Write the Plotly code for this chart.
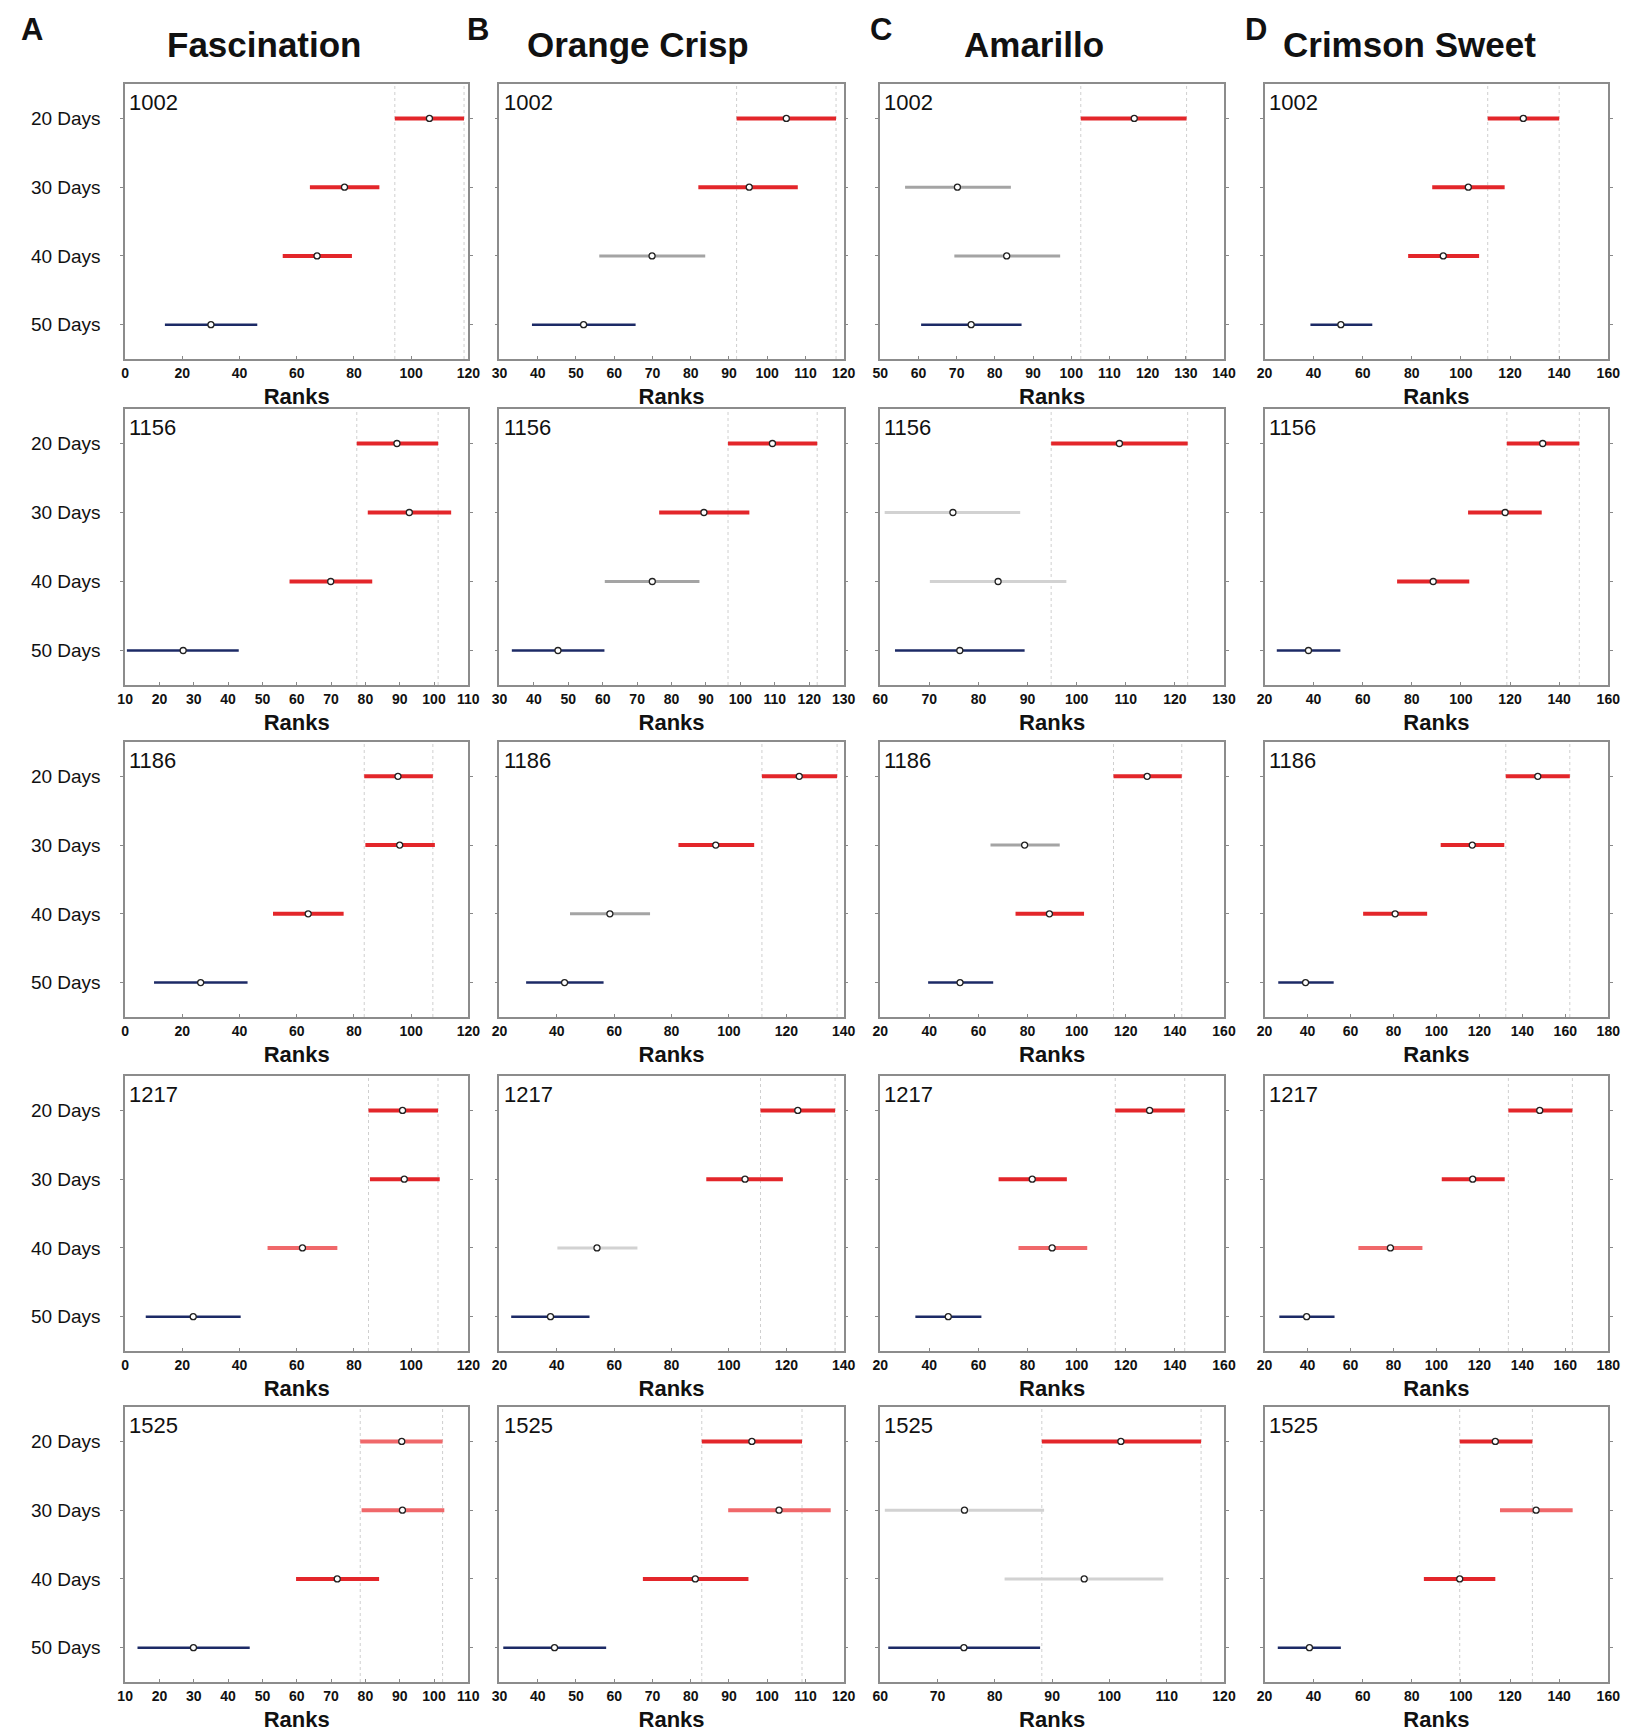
import plotly.graph_objects as go

cultivars = ["Fascination", "Orange Crisp", "Amarillo", "Crimson Sweet"]
letters = ["A", "B", "C", "D"]
lines = ["1002", "1156", "1186", "1217", "1525"]
days = ["20 Days", "30 Days", "40 Days", "50 Days"]

# mean rank, lower and upper interval, colour code (one row per line, one value per day)
fascination_mid = [[106.4, 76.7, 67.1, 30.0], [89.2, 92.8, 69.9, 26.9], [95.4, 96.0, 64.0, 26.4],
                   [97.0, 97.6, 62.0, 23.8], [90.6, 90.8, 71.8, 29.9]]
fascination_lo = [[94.3, 64.6, 55.1, 13.9], [77.5, 80.7, 57.9, 10.5], [83.6, 84.0, 51.7, 10.1],
                  [85.1, 85.6, 49.8, 7.2], [78.5, 78.9, 59.8, 13.6]]
fascination_hi = [[118.5, 88.9, 79.3, 46.2], [101.2, 105.0, 82.0, 43.1], [107.6, 108.3, 76.4, 42.8],
                  [109.4, 110.0, 74.2, 40.4], [102.5, 103.0, 84.0, 46.3]]
fascination_col = [["r", "r", "r", "n"], ["r", "r", "r", "n"], ["r", "r", "r", "n"],
                   ["r", "r", "lr", "n"], ["lr", "lr", "r", "n"]]

orange_mid = [[105.0, 95.3, 69.9, 52.0], [109.3, 89.4, 74.4, 47.0], [124.5, 95.4, 58.5, 42.7],
              [124.0, 105.6, 54.0, 37.8], [96.0, 103.1, 81.2, 44.4]]
orange_lo = [[92.0, 82.0, 56.1, 38.5], [96.4, 76.4, 60.6, 33.6], [111.5, 82.4, 44.6, 29.3],
             [111.0, 92.1, 40.2, 24.1], [82.9, 89.8, 67.5, 31.0]]
orange_hi = [[118.0, 108.0, 83.8, 65.6], [122.3, 102.6, 88.1, 60.5], [137.7, 108.8, 72.5, 56.3],
             [137.0, 118.8, 68.1, 51.4], [109.1, 116.6, 95.1, 57.9]]
orange_col = [["r", "r", "g", "n"], ["r", "r", "g", "n"], ["r", "r", "g", "n"],
              ["r", "r", "lg", "n"], ["r", "lr", "r", "n"]]

amarillo_mid = [[116.5, 70.2, 83.1, 73.8], [108.7, 74.8, 84.0, 76.2], [128.7, 78.8, 88.9, 52.5],
                [129.7, 81.9, 90.0, 47.7], [102.0, 74.7, 95.6, 74.6]]
amarillo_lo = [[102.5, 56.5, 69.4, 60.7], [94.8, 60.9, 70.1, 63.0], [115.0, 64.9, 75.1, 39.5],
               [115.7, 68.2, 76.3, 34.3], [88.2, 60.8, 81.7, 61.4]]
amarillo_hi = [[130.2, 84.2, 97.1, 87.0], [122.6, 88.5, 97.9, 89.4], [142.8, 93.1, 103.0, 66.0],
               [144.0, 96.0, 104.3, 61.2], [116.0, 88.6, 109.4, 87.9]]
amarillo_col = [["r", "g", "g", "n"], ["r", "lg", "lg", "n"], ["r", "g", "r", "n"],
                ["r", "r", "lr", "n"], ["r", "lg", "lg", "n"]]

crimson_mid = [[125.4, 103.0, 92.8, 51.1], [133.3, 118.0, 88.7, 37.9], [147.2, 116.7, 80.8, 39.1],
               [148.1, 116.9, 78.6, 39.6], [114.0, 130.6, 99.5, 38.3]]
crimson_lo = [[110.9, 88.3, 78.5, 38.7], [118.7, 102.9, 74.0, 25.0], [132.3, 102.0, 65.9, 26.4],
              [133.5, 102.5, 63.7, 26.9], [99.5, 115.9, 84.9, 25.4]]
crimson_hi = [[140.0, 117.8, 107.4, 63.9], [148.2, 132.9, 103.4, 50.9], [162.1, 131.6, 95.7, 52.2],
              [163.3, 131.8, 93.5, 52.6], [129.1, 145.5, 114.0, 51.1]]
crimson_col = [["r", "r", "r", "n"], ["r", "r", "r", "n"], ["r", "r", "r", "n"],
               ["r", "r", "lr", "n"], ["r", "lr", "r", "n"]]

# x axis limits and tick step per panel
fascination_xlim = [[0, 120, 20], [10, 110, 10], [0, 120, 20], [0, 120, 20], [10, 110, 10]]
orange_xlim = [[30, 120, 10], [30, 130, 10], [20, 140, 20], [20, 140, 20], [30, 120, 10]]
amarillo_xlim = [[50, 140, 10], [60, 130, 10], [20, 160, 20], [20, 160, 20], [60, 120, 10]]
crimson_xlim = [[20, 160, 20], [20, 160, 20], [20, 180, 20], [20, 180, 20], [20, 160, 20]]

mids = [fascination_mid, orange_mid, amarillo_mid, crimson_mid]
los = [fascination_lo, orange_lo, amarillo_lo, crimson_lo]
his = [fascination_hi, orange_hi, amarillo_hi, crimson_hi]
cols = [fascination_col, orange_col, amarillo_col, crimson_col]
xlims = [fascination_xlim, orange_xlim, amarillo_xlim, crimson_xlim]

colors = {"r": "#e3262a", "lr": "#f0686a", "g": "#a4a4a4", "lg": "#d2d2d2", "n": "#1c2a66"}
widths = {"r": 4, "lr": 4, "g": 3, "lg": 3, "n": 2.5}

W, H = 1642, 1733
col_px = [(118.6, 466.0), (497.5, 846.0), (883, 1231), (1272, 1620)]
row_px = [(84, 359), (409, 685), (742, 1017), (1076, 1351), (1407, 1682)]

FONT = "Liberation Sans, Arial, sans-serif"
fig = go.Figure()
shapes = []
annotations = []
layout = {}

for c in range(4):
    for r in range(5):
        n = r * 4 + c + 1
        xa = "x" if n == 1 else f"x{n}"
        ya = "y" if n == 1 else f"y{n}"
        yvals = [1, 2, 3, 4]
        for i in range(4):
            k = cols[c][r][i]
            fig.add_trace(go.Scatter(x=[los[c][r][i], his[c][r][i]], y=[yvals[i], yvals[i]],
                                     mode="lines", line=dict(color=colors[k], width=widths[k]),
                                     xaxis=xa, yaxis=ya, showlegend=False, hoverinfo="skip"))
        fig.add_trace(go.Scatter(x=mids[c][r], y=yvals, mode="markers",
                                 marker=dict(symbol="circle", size=6, color="white",
                                             line=dict(color="#222222", width=1.3)),
                                 xaxis=xa, yaxis=ya, showlegend=False))
        # dotted reference lines at the 20-day interval
        for xv in (los[c][r][0], his[c][r][0]):
            shapes.append(dict(type="line", xref=xa, yref=f"{ya} domain", x0=xv, x1=xv, y0=0, y1=1,
                               line=dict(color="#cfcfcf", width=1, dash="dot"), layer="below"))
        annotations.append(dict(text=lines[r], xref=f"{xa} domain", yref=f"{ya} domain",
                                x=0.006, y=0.985, xanchor="left", yanchor="top", showarrow=False,
                                font=dict(family=FONT, size=22, color="#111")))
        lo_x, hi_x, step = xlims[c][r]
        x0, x1 = col_px[c]
        y0, y1 = row_px[r]
        layout["xaxis" if n == 1 else f"xaxis{n}"] = dict(
            domain=[x0 / W, x1 / W], range=[lo_x, hi_x], tick0=lo_x, dtick=step,
            anchor=ya, showline=True, mirror=True, linecolor="#8c8c8c", linewidth=1.5,
            ticks="inside", ticklen=3, tickcolor="#888", showgrid=False, zeroline=False,
            tickfont=dict(family=FONT, size=14, color="#111", weight="bold"),
            title=dict(text="Ranks", standoff=9,
                       font=dict(family=FONT, size=22, color="#111", weight="bold")))
        layout["yaxis" if n == 1 else f"yaxis{n}"] = dict(
            domain=[1 - y1 / H, 1 - y0 / H], range=[4.5, 0.5], tickvals=[1, 2, 3, 4],
            ticktext=days, showticklabels=(c == 0), anchor=xa, showline=True, mirror="ticks",
            linecolor="#8c8c8c", linewidth=1.5, ticks="outside", ticklen=3, tickcolor="#888",
            showgrid=False, zeroline=False, ticklabelstandoff=16,
            tickfont=dict(family=FONT, size=19, color="#111"))

title_x = [259, 638, 1039, 1419]
letter_x = [24, 476, 884, 1263]
for c in range(4):
    annotations.append(dict(text=cultivars[c], xref="paper", yref="paper", x=title_x[c] / W,
                            y=1 - 44.5 / H, xanchor="center", yanchor="middle", showarrow=False,
                            font=dict(family=FONT, size=35, color="#111", weight="bold")))
    annotations.append(dict(text=letters[c], xref="paper", yref="paper", x=letter_x[c] / W,
                            y=1 - 30 / H, xanchor="center", yanchor="middle", showarrow=False,
                            font=dict(family=FONT, size=31, color="#111", weight="bold")))

fig.update_layout(width=W, height=H, margin=dict(l=0, r=0, t=0, b=0),
                  plot_bgcolor="white", paper_bgcolor="white",
                  shapes=shapes, annotations=annotations, **layout)

# the page body has a default 8px margin; drop it so the figure fills the window
fig.write_html("out.html", config={"displayModeBar": False},
               post_script="document.body.style.margin = '0';")
